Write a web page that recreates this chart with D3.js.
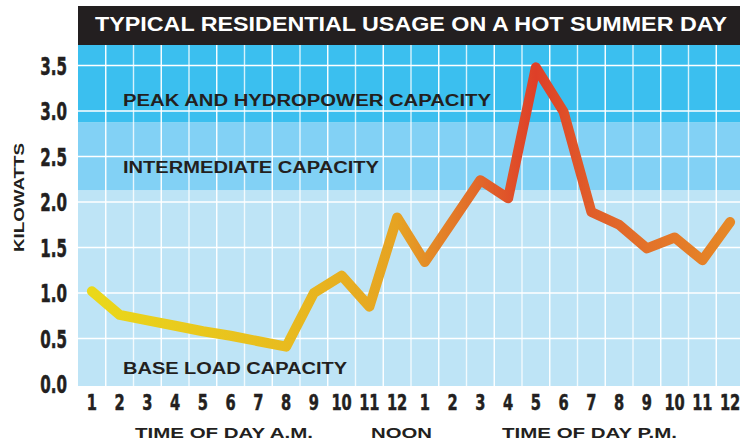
<!DOCTYPE html>
<html>
<head>
<meta charset="utf-8">
<script src="https://cdn.jsdelivr.net/npm/d3@7"></script>
<style>
  html, body { margin: 0; padding: 0; background: #ffffff; }
  svg { display: block; }
</style>
</head>
<body>
<svg id="chart" width="740" height="443"></svg>
<script>
// ---------- data ----------
const chartTitle = "TYPICAL RESIDENTIAL USAGE ON A HOT SUMMER DAY";
const hours = ["1 AM","2 AM","3 AM","4 AM","5 AM","6 AM","7 AM","8 AM","9 AM","10 AM","11 AM","12 PM",
               "1 PM","2 PM","3 PM","4 PM","5 PM","6 PM","7 PM","8 PM","9 PM","10 PM","11 PM","12 AM"];
const hourLabels = ["1","2","3","4","5","6","7","8","9","10","11","12",
                    "1","2","3","4","5","6","7","8","9","10","11","12"];
const kilowatts = [1.02, 0.76, 0.70, 0.64, 0.58, 0.53, 0.47, 0.41, 1.00, 1.19, 0.85, 1.83,
                   1.34, 1.79, 2.24, 2.04, 3.48, 2.99, 1.89, 1.75, 1.49, 1.61, 1.36, 1.78];
const yTicks = [0, 0.5, 1.0, 1.5, 2.0, 2.5, 3.0, 3.5];
const bandNames = ["BASE LOAD CAPACITY", "INTERMEDIATE CAPACITY", "PEAK AND HYDROPOWER CAPACITY"];
const bandLower = [0, 2.13, 2.875];
const bandUpper = [2.13, 2.875, 3.72];
const yTitle = "KILOWATTS";
const xTitles = ["TIME OF DAY A.M.", "NOON", "TIME OF DAY P.M."];

(function () {
// ---------- layout ----------
const svg = d3.select("#chart");
const pLeft = 78, pRight = 744, pTop = 45, pBottom = 386;
const x = d3.scaleBand().domain(hours).range([pLeft, pRight]).padding(0);
const y = d3.scaleLinear().domain([0, 3.5]).range([384, 65.5]);
const cx = d => x(d) + x.bandwidth() / 2;

const bandColors = ["#bee4f6", "#82d1f5", "#3bbfef"];
const ink = "#231f20";
const boldFont = "'Liberation Sans', Arial, Helvetica, sans-serif";
const narrowFont = "'Liberation Sans Narrow', 'Arial Narrow', 'DejaVu Sans Condensed', sans-serif";

// bands
const bandIdx = d3.range(bandNames.length);
const last = bandNames.length - 1;
svg.append("g").selectAll("rect").data(bandIdx).join("rect")
  .attr("x", pLeft)
  .attr("width", 740 - pLeft)
  .attr("y", i => i === last ? pTop : y(bandUpper[i]))
  .attr("height", i => (i === 0 ? pBottom : y(bandLower[i])) - (i === last ? pTop : y(bandUpper[i])))
  .attr("fill", i => bandColors[i]);

// grid
const grid = svg.append("g").attr("stroke", "#ffffff").attr("stroke-width", 1.4);
grid.selectAll("line.h").data(yTicks.filter(v => v > 0)).join("line")
  .attr("class", "h")
  .attr("x1", pLeft).attr("x2", 740)
  .attr("y1", d => y(d)).attr("y2", d => y(d));
grid.selectAll("line.v").data(hours.slice(1)).join("line")
  .attr("class", "v")
  .attr("x1", d => x(d)).attr("x2", d => x(d))
  .attr("y1", pTop).attr("y2", pBottom)
  .attr("stroke-opacity", (d, i) => (i % 2 === 0 ? 1 : 0.8));

// title bar
svg.append("rect").attr("x", pLeft).attr("y", 6).attr("width", 740 - pLeft).attr("height", pTop - 6)
  .attr("fill", "#231f20");
svg.append("text").attr("x", 95).attr("y", 31)
  .attr("font-family", boldFont).attr("font-weight", "bold").attr("font-size", 19.5)
  .attr("fill", "#ffffff")
  .attr("textLength", 632).attr("lengthAdjust", "spacingAndGlyphs")
  .text(chartTitle);

// band labels
const bandBaselines = [374, 173, 106];
const bandWidths = [224, 256, 368];
svg.append("g").selectAll("text").data(bandIdx).join("text")
  .attr("x", 123).attr("y", i => bandBaselines[i])
  .attr("font-family", boldFont).attr("font-weight", "bold").attr("font-size", 16)
  .attr("fill", ink)
  .attr("textLength", i => bandWidths[i]).attr("lengthAdjust", "spacingAndGlyphs")
  .text(i => bandNames[i]);

// line with gradient along x
const defs = svg.append("defs");
const grad = defs.append("linearGradient").attr("id", "lineGrad")
  .attr("gradientUnits", "userSpaceOnUse")
  .attr("x1", cx(hours[0])).attr("x2", cx(hours[hours.length - 1]))
  .attr("y1", 0).attr("y2", 0);
const stops = [[0, "#ead81a"], [7, "#e8bb1f"], [11, "#e6a322"], [12, "#e48e26"], [14, "#e1662a"],
               [16, "#de3f28"], [17, "#df4e29"], [18, "#e05d2a"], [20, "#e37229"], [23, "#e68826"]];
grad.selectAll("stop").data(stops).join("stop")
  .attr("offset", d => d[0] / 23)
  .attr("stop-color", d => d[1]);

const line = d3.line().x((d, i) => cx(hours[i])).y(d => y(d));
svg.append("path").datum(kilowatts)
  .attr("d", line)
  .attr("fill", "none")
  .attr("stroke", "url(#lineGrad)")
  .attr("stroke-width", 10)
  .attr("stroke-linecap", "round")
  .attr("stroke-linejoin", "round");

// y axis
const yAxis = svg.append("g").attr("transform", "translate(67,0)")
  .call(d3.axisLeft(y).tickValues(yTicks).tickFormat(d3.format(".1f")).tickSize(0).tickPadding(0));
yAxis.select(".domain").remove();
yAxis.selectAll("text")
  .attr("font-family", narrowFont).attr("font-weight", "bold").attr("font-size", 24)
  .attr("fill", ink).attr("stroke", ink).attr("stroke-width", 0.5)
  .attr("x", 0).attr("dy", "0.36em")
  .attr("transform", "scale(0.7,1)");

// x axis
const xAxis = svg.append("g").attr("transform", "translate(0,394)")
  .call(d3.axisBottom(x).tickFormat((d, i) => hourLabels[i]).tickSize(0).tickPadding(0));
xAxis.select(".domain").remove();
xAxis.selectAll("text")
  .attr("font-family", narrowFont).attr("font-weight", "bold").attr("font-size", 22)
  .attr("fill", ink).attr("stroke", ink).attr("stroke-width", 0.5)
  .attr("y", 0).attr("dy", "0.72em")
  .attr("transform", "scale(0.74,1)");
xAxis.selectAll(".tick").attr("transform", d => `translate(${cx(d)},0)`);

// axis titles
svg.append("text")
  .attr("transform", "translate(24,197.5) rotate(-90)")
  .attr("text-anchor", "middle")
  .attr("font-family", boldFont).attr("font-weight", "bold").attr("font-size", 14)
  .attr("fill", ink)
  .attr("textLength", 109).attr("lengthAdjust", "spacingAndGlyphs")
  .text(yTitle);

const xTitleX = [135, 371, 502];
const xTitleW = [178, 61, 175];
svg.append("g").selectAll("text").data(d3.range(xTitles.length)).join("text")
  .attr("x", i => xTitleX[i]).attr("y", 438)
  .attr("font-family", boldFont).attr("font-weight", "bold").attr("font-size", 14)
  .attr("fill", ink)
  .attr("textLength", i => xTitleW[i]).attr("lengthAdjust", "spacingAndGlyphs")
  .text(i => xTitles[i]);
})();
</script>
</body>
</html>
